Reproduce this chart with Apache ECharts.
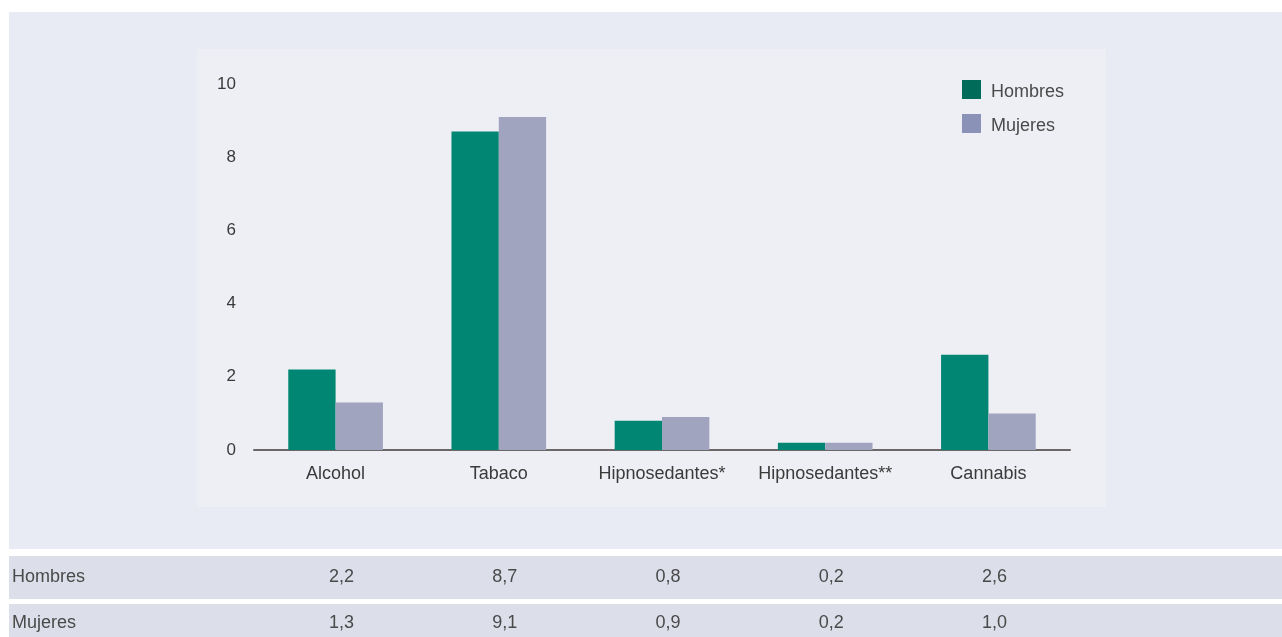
<!DOCTYPE html>
<html>
<head>
<meta charset="utf-8">
<script src="https://cdn.jsdelivr.net/npm/echarts@6/dist/echarts.min.js"></script>
<style>
html,body{margin:0;padding:0;background:#ffffff;}
#c{width:1282px;height:637px;}
</style>
</head>
<body>
<div id="c"></div>
<script>
const categories = ['Alcohol', 'Tabaco', 'Hipnosedantes*', 'Hipnosedantes**', 'Cannabis'];
const hombres = [2.2, 8.7, 0.8, 0.2, 2.6];
const mujeres = [1.3, 9.1, 0.9, 0.2, 1.0];
const seriesNames = ['Hombres', 'Mujeres'];
const yTicks = [0, 2, 4, 6, 8, 10];

const FONT = '"Liberation Sans", Arial, Helvetica, sans-serif';
const FS = 18;
const TXT = '#4a4a4a';
const chart = echarts.init(document.getElementById('c'), null, {renderer: 'canvas'});

const fmt = v => v.toFixed(1).replace('.', ',');

const option = {
  backgroundColor: '#ffffff',
  animation: false,
  textStyle: {fontFamily: FONT},
  grid: {left: 254, right: 212, top: 84, bottom: 187, containLabel: false},
  legend: {
    orient: 'vertical',
    left: 962, top: 78,
    padding: 0,
    itemWidth: 19, itemHeight: 19,
    itemGap: 11,
    icon: 'rect',
    textStyle: {fontFamily: FONT, fontSize: 18, color: TXT, padding: [0, 0, 0, 5], lineHeight: 19, verticalAlign: 'middle'},
    formatter: n => '{t|' + n + '}',
    data: [
      {name: seriesNames[0], itemStyle: {color: '#006b58'}},
      {name: seriesNames[1], itemStyle: {color: '#8a93b7'}}
    ]
  },
  xAxis: {
    type: 'category',
    data: categories,
    axisLine: {lineStyle: {color: '#6b6767', width: 2}},
    axisTick: {show: false},
    axisLabel: {fontFamily: FONT, fontSize: FS, color: '#3a3a3a', margin: 15, interval: 0}
  },
  yAxis: {
    type: 'value',
    min: 0, max: 10, interval: 2,
    axisLine: {show: false},
    axisTick: {show: false},
    splitLine: {show: false},
    axisLabel: {fontFamily: FONT, fontSize: 17, color: '#3a3a3a', margin: 18,
      formatter: v => yTicks.includes(v) ? String(v) : ''}
  },
  series: [
    {name: seriesNames[0], type: 'bar', data: hombres, barGap: '0%', barCategoryGap: '42%',
     itemStyle: {color: '#008673'}, z: 3},
    {name: seriesNames[1], type: 'bar', data: mujeres, barGap: '0%', barCategoryGap: '42%',
     itemStyle: {color: '#a0a4bf'}, z: 3}
  ]
};
option.legend.textStyle.rich = {t: {fontFamily: FONT, fontSize: 18, color: TXT, padding: [5, 0, 0, 0], lineHeight: 19}};
chart.setOption(option);

function buildGraphics() {
  const f = FS + 'px ' + FONT;
  const els = [
    {type: 'rect', shape: {x: 9, y: 12, width: 1273, height: 537}, style: {fill: '#e9ebf4'}, z: -10, silent: true},
    {type: 'rect', shape: {x: 197, y: 49, width: 909, height: 458}, style: {fill: '#eeeff5'}, z: -9, silent: true},
    {type: 'rect', shape: {x: 9, y: 556, width: 1273, height: 43}, style: {fill: '#dcdee9'}, z: -10, silent: true},
    {type: 'rect', shape: {x: 9, y: 604, width: 1273, height: 33}, style: {fill: '#dcdee9'}, z: -10, silent: true},
    {type: 'text', x: 12, y: 577, style: {text: seriesNames[0], font: f, fill: TXT, textVerticalAlign: 'middle'}},
    {type: 'text', x: 12, y: 623, style: {text: seriesNames[1], font: f, fill: TXT, textVerticalAlign: 'middle'}}
  ];
  categories.forEach((c, i) => {
    const px = chart.convertToPixel({xAxisIndex: 0}, c) + 6;
    els.push({type: 'text', x: px, y: 577, style: {text: fmt(hombres[i]), font: f, fill: TXT, textAlign: 'center', textVerticalAlign: 'middle'}});
    els.push({type: 'text', x: px, y: 623, style: {text: fmt(mujeres[i]), font: f, fill: TXT, textAlign: 'center', textVerticalAlign: 'middle'}});
  });
  chart.setOption({graphic: els});
}
buildGraphics();
</script>
</body>
</html>
